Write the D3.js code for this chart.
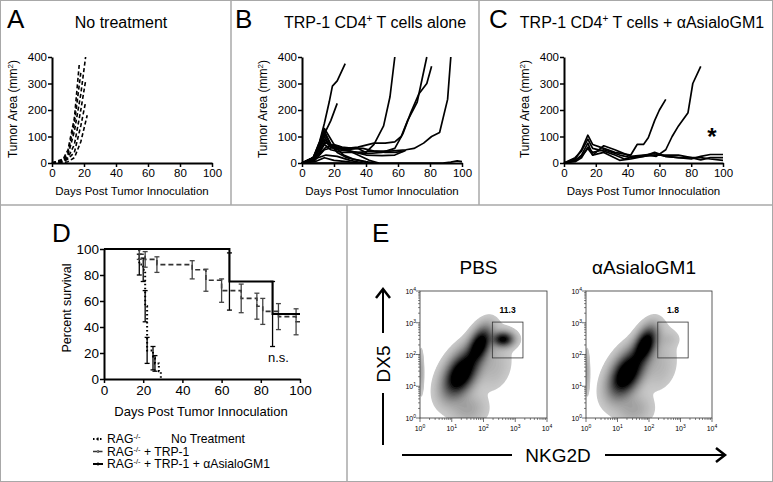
<!DOCTYPE html>
<html><head><meta charset="utf-8">
<script src="https://cdn.jsdelivr.net/npm/d3@7"></script>
<style>body{margin:0;background:#fff} text{font-family:"Liberation Sans",Arial,sans-serif;fill:#000}</style>
</head><body><svg id="c" width="773" height="482"></svg>
<script>
// ---------------- DATA ----------------
const dayTicks = [0, 20, 40, 60, 80, 100];
const areaTicks = [0, 100, 200, 300, 400];
const pctTicks = [0, 20, 40, 60, 80, 100];
const panelTitles = ["No treatment", "TRP-1 CD4", "TRP-1 CD4"];

// Panel A: no treatment tumour growth (day, mm²)
const noTreatment = [
  [[0,0],[7,15],[10,50],[14,170],[17,370]],
  [[0,0],[7,10],[10,40],[14,150],[18,340]],
  [[0,0],[7,5],[10,30],[14,120],[18,260],[21,400]],
  [[0,0],[7,10],[10,20],[14,70],[18,200],[21,310]],
  [[0,0],[7,5],[10,15],[14,40],[18,140],[21,230]],
  [[0,0],[7,2],[10,5],[14,20],[18,80],[22,180]]
];
// Panel B: TRP-1 CD4+ alone
const trp1Alone = [
  [[0,0],[7,20],[11,80],[14,150],[17,230],[19,290],[22,310],[27,375]],
  [[0,0],[7,15],[11,60],[14,110],[18,160],[22,225]],
  [[0,0],[7,20],[11,60],[14,100],[18,60],[22,55],[28,50],[35,55],[40,40],[45,70],[51,140],[55,250],[58,400]],
  [[0,0],[7,20],[11,70],[14,120],[18,70],[22,60],[28,55],[35,60],[45,75],[52,75],[58,80],[62,100],[66,160],[72,230],[78,400]],
  [[0,0],[7,15],[11,50],[14,90],[18,60],[22,50],[30,45],[40,35],[50,40],[58,55],[63,110],[68,190],[73,260],[78,300],[81,365]],
  [[0,0],[7,10],[11,40],[14,70],[18,50],[25,40],[35,40],[45,45],[55,45],[65,50],[70,55],[76,75],[81,100],[86,115],[91,240],[93,400]],
  [[0,0],[7,20],[11,80],[14,130],[17,100],[21,60],[26,30],[32,15],[40,5],[45,0]],
  [[0,0],[7,15],[11,60],[14,110],[18,70],[22,40],[28,20],[35,10],[42,0]],
  [[0,0],[7,10],[11,40],[14,80],[18,65],[22,65],[28,50],[35,30],[42,10],[48,0]],
  [[0,0],[8,10],[14,50],[20,60],[30,45],[40,30],[50,28],[58,30],[65,48]],
  [[0,0],[8,5],[14,20],[20,10],[28,5],[35,0]],
  [[0,0],[10,20],[15,30],[22,25],[30,10],[38,0]],
  [[0,0],[10,30],[15,60],[20,70],[25,60],[32,55],[38,55],[45,45],[52,40],[58,40],[64,45]],
  [[0,0],[88,0],[93,3],[97,8],[100,5]]
];
// Panel C: TRP-1 CD4+ + anti-AsialoGM1
const trp1Asialo = [
  [[0,0],[7,15],[11,50],[15,105],[18,70],[25,55],[32,40],[42,30],[46,70],[50,70],[53,95],[57,160],[60,200],[64,240]],
  [[0,0],[7,20],[11,45],[15,90],[18,55],[25,45],[32,30],[38,15],[46,25],[53,30],[58,25],[64,50],[68,100],[72,140],[78,190],[81,300],[86,365]],
  [[0,0],[7,10],[11,30],[15,75],[18,30],[25,65],[32,50],[42,25],[50,30],[57,35],[64,25],[72,20],[80,15],[86,25],[92,32],[100,32]],
  [[0,0],[7,10],[11,25],[15,55],[18,30],[25,40],[35,10],[42,15],[50,25],[57,30],[64,30],[72,30],[80,20],[86,20],[92,15],[100,10]],
  [[0,0],[7,5],[11,20],[15,60],[18,40],[25,50],[35,30],[42,20],[50,25],[57,40],[64,25],[72,20],[80,20],[86,12],[92,20],[100,20]]
];

// Panel D: Kaplan–Meier (time, % survival, ± error)
const ntTime = [0, 18, 20, 21, 22, 25, 26, 28, 29];
const ntSurv = [100, 88, 84, 56, 22, 16, 12, 6, 0];
const ntErr  = [0, 8, 9, 12, 10, 9, 6, 0, 0];
const trpTime = [0, 18, 21, 27, 45, 52, 60, 70, 78, 81, 89, 98, 100];
const trpSurv = [100, 96, 92, 88, 84, 76, 68, 62, 56, 52, 48, 44, 44];
const trpErr  = [0, 4, 6, 6, 7, 8.5, 9, 11, 10, 10, 10, 10, 0];
const asTime = [0, 64, 86, 100];
const asSurv = [100, 75, 50, 50];
const asErr  = [0, 22, 25, 0];
const legendLabels = ["No Treatment", " + TRP-1", " + TRP-1 + \u03b1AsialoGM1"];

// Panel E: flow cytometry density (log10 space) mixture components
const flowTitles = ["PBS", "\u03b1AsialoGM1"];
const gateLabels = ["11.3", "1.8"];
const gateX = [190, 1750];
const gateY = [78, 1050];
const flowDecades = [1, 10, 100, 1000, 10000];
const compMx  = [1.28, 1.88, 2.62, 1.75, 0.04, 1.50, 2.40];
const compMy  = [1.38, 2.32, 2.48, 1.85, 1.45, 0.30, 1.50];
const compSx  = [0.32, 0.22, 0.20, 0.55, 0.05, 0.35, 0.30];
const compSy  = [0.42, 0.33, 0.14, 0.55, 0.40, 0.30, 0.40];
const compRho = [0.45, 0.45, 0.00, 0.60, 0.00, 0.00, 0.30];
const pbsW    = [1.00, 0.85, 0.72, 0.10, 0.10, 0.11, 0.05];
const asialoW = [1.00, 0.90, 0.03, 0.10, 0.10, 0.11, 0.05];

// ---------------- DRAW ----------------
const svg = d3.select("#c");
const frame = "#a8a8a8";
svg.append("rect").attr("x",0.5).attr("y",0.5).attr("width",772).attr("height",481).attr("fill","none").attr("stroke",frame);
[[231,0,231,205],[479,0,479,205],[0,205,773,205],[347,205,347,482]].forEach(l=>
  svg.append("line").attr("x1",l[0]).attr("y1",l[1]).attr("x2",l[2]).attr("y2",l[3]).attr("stroke",frame).attr("stroke-width",1.5));

function styleAxis(g, fs){
  g.select(".domain").attr("stroke","#000").attr("stroke-width",2);
  g.selectAll(".tick line").attr("stroke","#000").attr("stroke-width",1.5);
  g.selectAll(".tick text").attr("font-size",fs).attr("font-family","Liberation Sans, Arial, sans-serif").attr("fill","#000");
}
function letter(t,x,y){ svg.append("text").attr("x",x).attr("y",y).attr("font-size",26).text(t); }

function tumorPanel(x0, x1, series, dashed, titleIdx, cx, sup){
  const x = d3.scaleLinear().domain([0,100]).range([x0,x1]);
  const y = d3.scaleLinear().domain([0,400]).range([163,57]);
  const g = svg.append("g");
  const line = d3.line().x(d=>x(d[0])).y(d=>y(d[1]));
  g.selectAll("path.s").data(series).enter().append("path").attr("class","s")
    .attr("d",line).attr("fill","none").attr("stroke","#000")
    .attr("stroke-width", dashed ? 1.6 : 1.7)
    .attr("stroke-dasharray", dashed ? "4,2.5" : null)
    .attr("stroke-linejoin","round");
  const ax = g.append("g").attr("transform","translate(0,163)")
    .call(d3.axisBottom(x).tickValues(dayTicks).tickSize(4).tickSizeOuter(0).tickPadding(2));
  styleAxis(ax, 11.5);
  const ay = g.append("g").attr("transform",`translate(${x0},0)`)
    .call(d3.axisLeft(y).tickValues(areaTicks).tickSize(4).tickSizeOuter(0).tickPadding(1));
  styleAxis(ay, 11.5);
  g.append("text").attr("x",(x0+x1)/2).attr("y",195).attr("text-anchor","middle").attr("font-size",11.5)
    .text("Days Post Tumor Innoculation");
  const yl = g.append("text").attr("transform",`translate(${x0-35},109) rotate(-90)`).attr("text-anchor","middle").attr("font-size",12);
  yl.append("tspan").text("Tumor Area (mm");
  yl.append("tspan").attr("font-size",8).attr("dy",-4).text("2");
  yl.append("tspan").attr("dy",4).text(")");
  const t = g.append("text").attr("x",cx).attr("y",28).attr("text-anchor","middle").attr("font-size",16);
  t.append("tspan").text(panelTitles[titleIdx]);
  if (sup){
    t.append("tspan").attr("font-size",10).attr("dy",-6).text("+");
    t.append("tspan").attr("dy",6).text(sup);
  }
  return {x,y,g};
}

tumorPanel(52,212,noTreatment,true,0,121,null);
letter("A",7,28);
tumorPanel(302,462,trp1Alone,false,1,375," T cells alone");
letter("B",235,28);
const pc = tumorPanel(564,723,trp1Asialo,false,2,642," T cells + \u03b1AsialoGM1");
letter("C",489,28);
pc.g.append("text").attr("x",pc.x(93)).attr("y",145).attr("text-anchor","middle").attr("font-size",24).attr("font-weight","bold").text("*");

// ---- Panel D ----
letter("D",52,242);
{
  const x = d3.scaleLinear().domain([0,100]).range([104,300]);
  const y = d3.scaleLinear().domain([0,100]).range([379,249]);
  const g = svg.append("g");
  const step = d3.line().curve(d3.curveStepAfter).x(d=>x(d[0])).y(d=>y(d[1]));
  const groups = [
    {t:ntTime,s:ntSurv,e:ntErr,dash:"1.5,2.5",w:2,c:"#000",ec:"#000"},
    {t:trpTime,s:trpSurv,e:trpErr,dash:"5,3",w:1.6,c:"#333",ec:"#444"},
    {t:asTime,s:asSurv,e:asErr,dash:null,w:2,c:"#000",ec:"#000"}
  ];
  groups.forEach(gr=>{
    const pts = gr.t.map((t,i)=>[t,gr.s[i]]);
    g.append("path").attr("d",step(pts)).attr("fill","none").attr("stroke",gr.c)
      .attr("stroke-width",gr.w).attr("stroke-dasharray",gr.dash);
    pts.forEach((p,i)=>{
      const e = gr.e[i]; if(!e) return;
      const xx = x(p[0]);
      g.append("line").attr("x1",xx).attr("x2",xx).attr("y1",y(p[1]-e)).attr("y2",y(p[1]+e)).attr("stroke",gr.ec).attr("stroke-width",1.3);
      [p[1]-e,p[1]+e].forEach(v=>g.append("line").attr("x1",xx-2.5).attr("x2",xx+2.5).attr("y1",y(v)).attr("y2",y(v)).attr("stroke",gr.ec).attr("stroke-width",1.3));
    });
  });
  const ax = g.append("g").attr("transform","translate(0,379)")
    .call(d3.axisBottom(x).tickValues(dayTicks).tickSize(4).tickSizeOuter(0).tickPadding(2));
  styleAxis(ax,13.5);
  const ay = g.append("g").attr("transform","translate(104,0)")
    .call(d3.axisLeft(y).tickValues(pctTicks).tickSize(4).tickSizeOuter(0).tickPadding(1));
  styleAxis(ay,13.5);
  g.append("text").attr("x",201).attr("y",416).attr("text-anchor","middle").attr("font-size",13).text("Days Post Tumor Innoculation");
  g.append("text").attr("transform","translate(71,308) rotate(-90)").attr("text-anchor","middle").attr("font-size",12.5).text("Percent survival");
  g.append("text").attr("x",268).attr("y",362).attr("font-size",13).text("n.s.");
  // legend
  const rows = [439,451.5,464];
  rows.forEach((ry,i)=>{
    const gr = groups[i];
    g.append("line").attr("x1",93).attr("x2",103).attr("y1",ry).attr("y2",ry).attr("stroke",gr.c)
      .attr("stroke-width",gr.w).attr("stroke-dasharray", i===0?"1.5,2":(i===1?"4,1.5":null));
    g.append("line").attr("x1",98).attr("x2",98).attr("y1",ry-1.5).attr("y2",ry+1.5).attr("stroke",gr.c).attr("stroke-width",1.3);
    const t = g.append("text").attr("x",107).attr("y",ry+4).attr("font-size",12.2);
    t.append("tspan").text("RAG");
    t.append("tspan").attr("font-size",7.5).attr("dy",-4).text("-/-");
    if(i===0){ t.append("tspan").attr("x",171).attr("dy",4).text(legendLabels[i]); }
    else { t.append("tspan").attr("dy",4).text(legendLabels[i]); }
  });
}

// ---- Panel E ----
letter("E",372,242);
{
  const boxes = [[420,547],[586,712]];
  const yr = [418,291];
  const weights = [pbsW, asialoW];
  const N = 160;
  const nLev = 30;
  const levFrac = d3.range(nLev).map(k=>0.015*Math.pow(0.7/0.015, k/(nLev-1)));
  const shade = f => { const v = Math.round(212*(1 - Math.pow(Math.min(1,f/0.62),0.8))); return `rgb(${v},${v},${v})`; };
  const defs = svg.append("defs");
  boxes.forEach((bx,pi)=>{
    const x = d3.scaleLog().domain([1,10000]).range(bx);
    const y = d3.scaleLog().domain([1,10000]).range(yr);
    const lx = d3.scaleLinear().domain([0,4]).range(bx);
    const ly = d3.scaleLinear().domain([0,4]).range(yr);
    const w = weights[pi];
    const vals = new Array(N*N);
    for(let j=0;j<N;j++) for(let i=0;i<N;i++){
      const a=(i+0.5)/N*4, b=(j+0.5)/N*4; let s=0;
      for(let c=0;c<compMx.length;c++){
        const dx=(a-compMx[c])/compSx[c], dy=(b-compMy[c])/compSy[c], r=compRho[c];
        s += w[c]*Math.exp(-0.5*(dx*dx-2*r*dx*dy+dy*dy)/(1-r*r));
      }
      vals[j*N+i]=s;
    }
    const mx = d3.max(vals);
    const cont = d3.contours().size([N,N]).thresholds(levFrac.map(f=>f*mx))(vals);
    const proj = d3.geoTransform({point:function(px,py){ this.stream.point(lx(px/N*4), ly(py/N*4)); }});
    const path = d3.geoPath(proj);
    const cid = "clip"+pi;
    defs.append("clipPath").attr("id",cid).append("rect").attr("x",bx[0]).attr("y",yr[1]).attr("width",bx[1]-bx[0]).attr("height",yr[0]-yr[1]);
    const g = svg.append("g");
    g.append("g").attr("clip-path",`url(#${cid})`).selectAll("path").data(cont).enter().append("path")
      .attr("d",path).attr("fill",(d,k)=>shade(levFrac[k])).attr("stroke","none");
    g.append("rect").attr("x",bx[0]).attr("y",yr[1]).attr("width",bx[1]-bx[0]).attr("height",yr[0]-yr[1]).attr("fill","none").attr("stroke","#333").attr("stroke-width",0.8);
    // gate
    g.append("rect").attr("x",x(gateX[0])).attr("y",y(gateY[1])).attr("width",x(gateX[1])-x(gateX[0])).attr("height",y(gateY[0])-y(gateY[1]))
      .attr("fill","none").attr("stroke","#333").attr("stroke-width",0.8);
    g.append("text").attr("x",(x(gateX[0])+x(gateX[1]))/2).attr("y",y(gateY[1])-9).attr("text-anchor","middle").attr("font-size",8.5).attr("font-weight","bold").text(gateLabels[pi]);
    // ticks
    const minor = [];
    flowDecades.slice(0,4).forEach(d=>{ for(let m=2;m<10;m++) minor.push(d*m); });
    minor.forEach(v=>{
      g.append("line").attr("x1",x(v)).attr("x2",x(v)).attr("y1",yr[0]).attr("y2",yr[0]+2).attr("stroke","#333").attr("stroke-width",0.6);
      g.append("line").attr("x1",bx[0]-2).attr("x2",bx[0]).attr("y1",y(v)).attr("y2",y(v)).attr("stroke","#333").attr("stroke-width",0.6);
    });
    flowDecades.forEach((v,k)=>{
      g.append("line").attr("x1",x(v)).attr("x2",x(v)).attr("y1",yr[0]).attr("y2",yr[0]+4).attr("stroke","#333").attr("stroke-width",0.7);
      g.append("line").attr("x1",bx[0]-4).attr("x2",bx[0]).attr("y1",y(v)).attr("y2",y(v)).attr("stroke","#333").attr("stroke-width",0.7);
      const tx = g.append("text").attr("x",x(v)).attr("y",yr[0]+13).attr("text-anchor","middle").attr("font-size",7);
      tx.append("tspan").text("10"); tx.append("tspan").attr("font-size",5).attr("dy",-3).text(k);
      const ty = g.append("text").attr("x",bx[0]-4).attr("y",y(v)+3).attr("text-anchor","end").attr("font-size",7);
      ty.append("tspan").text("10"); ty.append("tspan").attr("font-size",5).attr("dy",-3).text(k);
    });
    g.append("text").attr("x",(bx[0]+bx[1])/2-5).attr("y",274).attr("text-anchor","middle").attr("font-size",19).text(flowTitles[pi]);
  });
  // axis arrows
  const a = svg.append("g").attr("stroke","#000").attr("stroke-width",2).attr("fill","none");
  a.append("line").attr("x1",402).attr("x2",512).attr("y1",455).attr("y2",455);
  a.append("line").attr("x1",605).attr("x2",724).attr("y1",455).attr("y2",455);
  a.append("path").attr("d","M716,448 L725,455 L716,462").attr("stroke-width",2.5);
  a.append("line").attr("x1",383).attr("x2",383).attr("y1",445).attr("y2",393);
  a.append("line").attr("x1",383).attr("x2",383).attr("y1",333).attr("y2",290);
  a.append("path").attr("d","M376,298 L383,289 L390,298").attr("stroke-width",2.5);
  svg.append("text").attr("x",558).attr("y",462).attr("text-anchor","middle").attr("font-size",19).text("NKG2D");
  svg.append("text").attr("transform","translate(390,364) rotate(-90)").attr("text-anchor","middle").attr("font-size",19).text("DX5");
}
</script></body></html>
